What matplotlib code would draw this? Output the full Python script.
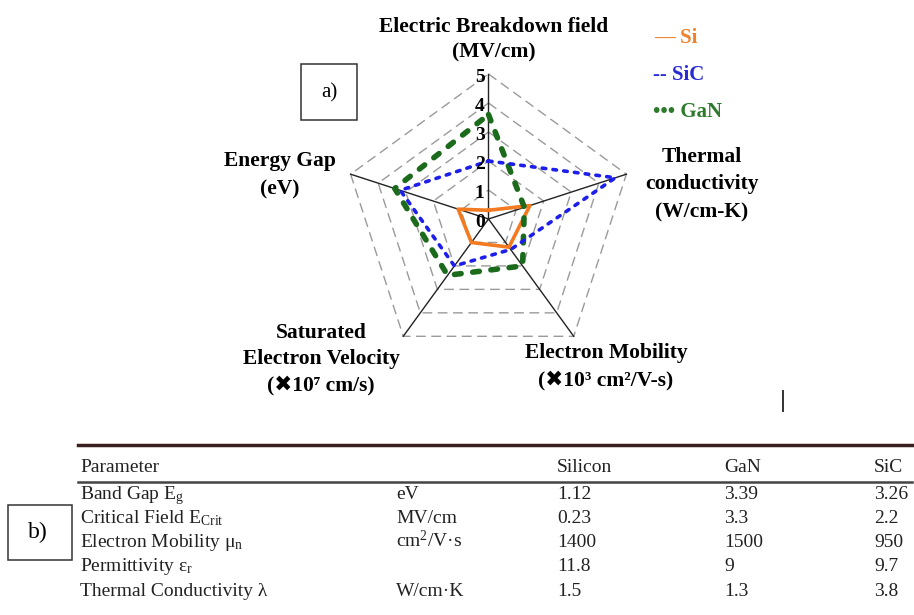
import matplotlib.pyplot as plt
from matplotlib.patches import Rectangle
from matplotlib.lines import Line2D
import numpy as np

plt.rcParams['mathtext.fontset'] = 'custom'
plt.rcParams['mathtext.rm'] = 'Liberation Serif'
plt.rcParams['mathtext.it'] = 'Liberation Serif:italic'
plt.rcParams['mathtext.bf'] = 'Liberation Serif:bold'

W, H = 914, 615

# radar axes, clockwise from the top
axis_lines = [['Electric Breakdown field', '(MV/cm)'],
              ['Thermal', 'conductivity', '(W/cm-K)'],
              ['Electron Mobility', '(✖10³ cm²/V-s)'],
              ['Saturated', 'Electron Velocity', '(✖10⁷ cm/s)'],
              ['Energy Gap', '(eV)']]
rings = [1, 2, 3, 4, 5]
si_vals = [0.3, 1.5, 1.2, 1.0, 1.1]
sic_vals = [2.0, 4.6, 1.3, 2.0, 3.2]
gan_vals = [3.6, 1.3, 2.0, 2.4, 3.4]

# table b)
tbl_header = ['Parameter', '', 'Silicon', 'GaN', 'SiC']
tbl_params = ['Band Gap E$_\\mathrm{g}$', 'Critical Field E$_\\mathrm{Crit}$',
              'Electron Mobility μ$_\\mathrm{n}$', 'Permittivity ε$_\\mathrm{r}$',
              'Thermal Conductivity λ']
tbl_units = ['eV', 'MV/cm', 'cm$^\\mathrm{2}$/V·s', '', 'W/cm·K']
tbl_si = ['1.12', '0.23', '1400', '11.8', '1.5']
tbl_gan = ['3.39', '3.3', '1500', '9', '1.3']
tbl_sic = ['3.26', '2.2', '950', '9.7', '3.8']

serif = ['Liberation Serif', 'DejaVu Sans']


def fx(px):
    return px / W


def fy(py):
    return 1 - py / H


fig = plt.figure(figsize=(W / 100, H / 100), dpi=100)

# radar in its own axes, 29 px per unit, centre at (488.5, 219)
cx, cy, unit = 488.5, 219, 29.0
x0, x1, yt, yb = 190, 790, 5, 405
ax = fig.add_axes([fx(x0), fy(yb), (x1 - x0) / W, (yb - yt) / H])
ax.set_xlim((x0 - cx) / unit, (x1 - cx) / unit)
ax.set_ylim((cy - yb) / unit, (cy - yt) / unit)
ax.axis('off')

theta = np.deg2rad(90 - 72 * np.arange(5))


def closed_xy(vals):
    v = np.append(vals, vals[0])
    t = np.append(theta, theta[0])
    return v * np.cos(t), v * np.sin(t)


for r in rings:
    gx, gy = closed_xy([r] * 5)
    ax.plot(gx, gy, color='#9a9a9a', lw=1.0, dashes=(7, 4), zorder=1)
for t in theta:
    ax.plot([0, rings[-1] * np.cos(t)], [0, rings[-1] * np.sin(t)],
            color='#222222', lw=1.0, zorder=2)
for r in [0] + rings:
    ax.text(-0.3, r - 0.12, str(r), ha='center', va='center', fontsize=14,
            fontweight='bold', family=serif, zorder=6)

sx, sy = closed_xy(si_vals)
ax.plot(sx, sy, color='#F37A20', lw=2.6, zorder=3)
gx, gy = closed_xy(gan_vals)
ax.plot(gx, gy, color='#1C6B1C', lw=4.0, dashes=(1.2, 2.1),
        dash_capstyle='round', zorder=4)
bx, by = closed_xy(sic_vals)
ax.plot(bx, by, color='#1E1EEB', lw=2.6, dashes=(1.0, 2.0),
        dash_capstyle='round', zorder=5)

# axis titles (centre x, first line y, line step) in pixels
label_pos = [(494, 27, 25), (702, 157, 27.5), (606, 353, 27),
             (321, 333, 26), (280, 161, 28)]
for lines, (lx, ly, dy) in zip(axis_lines, label_pos):
    for k, s in enumerate(lines):
        fig.text(fx(lx), fy(ly + k * dy), s, ha='center', va='center',
                 fontsize=15.5, fontweight='bold', family=serif)

# legend drawn as text like the original
fig.text(fx(654), fy(38), '— Si', color='#F0802A', fontsize=15,
         fontweight='bold', family=serif, va='center')
fig.text(fx(653), fy(75), '-- SiC', color='#2B2BD6', fontsize=15,
         fontweight='bold', family=serif, va='center')
fig.text(fx(653), fy(112), '••• GaN', color='#2D7A2D', fontsize=15,
         fontweight='bold', family=serif, va='center')

# panel boxes
fig.add_artist(Rectangle((fx(301), fy(120)), 56 / W, 56 / H, fill=False,
                         ec='#333333', lw=1.1, transform=fig.transFigure))
fig.text(fx(329), fy(93), 'a)', ha='center', va='center', fontsize=15,
         family=serif)
fig.add_artist(Rectangle((fx(8), fy(560)), 64 / W, 55 / H, fill=False,
                         ec='#333333', lw=1.1, transform=fig.transFigure))
fig.text(fx(38), fy(532), 'b)', ha='center', va='center', fontsize=17,
         family=serif)

fig.add_artist(Line2D([fx(783), fx(783)], [fy(391), fy(411)],
                      color='#333333', lw=1.4))

# table
fig.add_artist(Line2D([fx(78), fx(912)], [fy(445), fy(445)],
                      color='#3a1f1f', lw=2.5))
fig.add_artist(Line2D([fx(78), fx(912)], [fy(482), fy(482)],
                      color='#444444', lw=1.8))
col_x = [80, 396, 557, 724, 874]
for s, c in zip(tbl_header, col_x):
    fig.text(fx(c), fy(472), s, fontsize=14, family=serif, color='#222222',
             va='baseline')
row_y = [499, 523, 547, 571, 596]
for i, y in enumerate(row_y):
    row = [tbl_params[i], tbl_units[i], tbl_si[i], tbl_gan[i], tbl_sic[i]]
    for s, c in zip(row, col_x):
        fig.text(fx(c), fy(y), s, fontsize=14, family=serif,
                 color='#222222', va='baseline')

fig.savefig('out.png', dpi=100)
